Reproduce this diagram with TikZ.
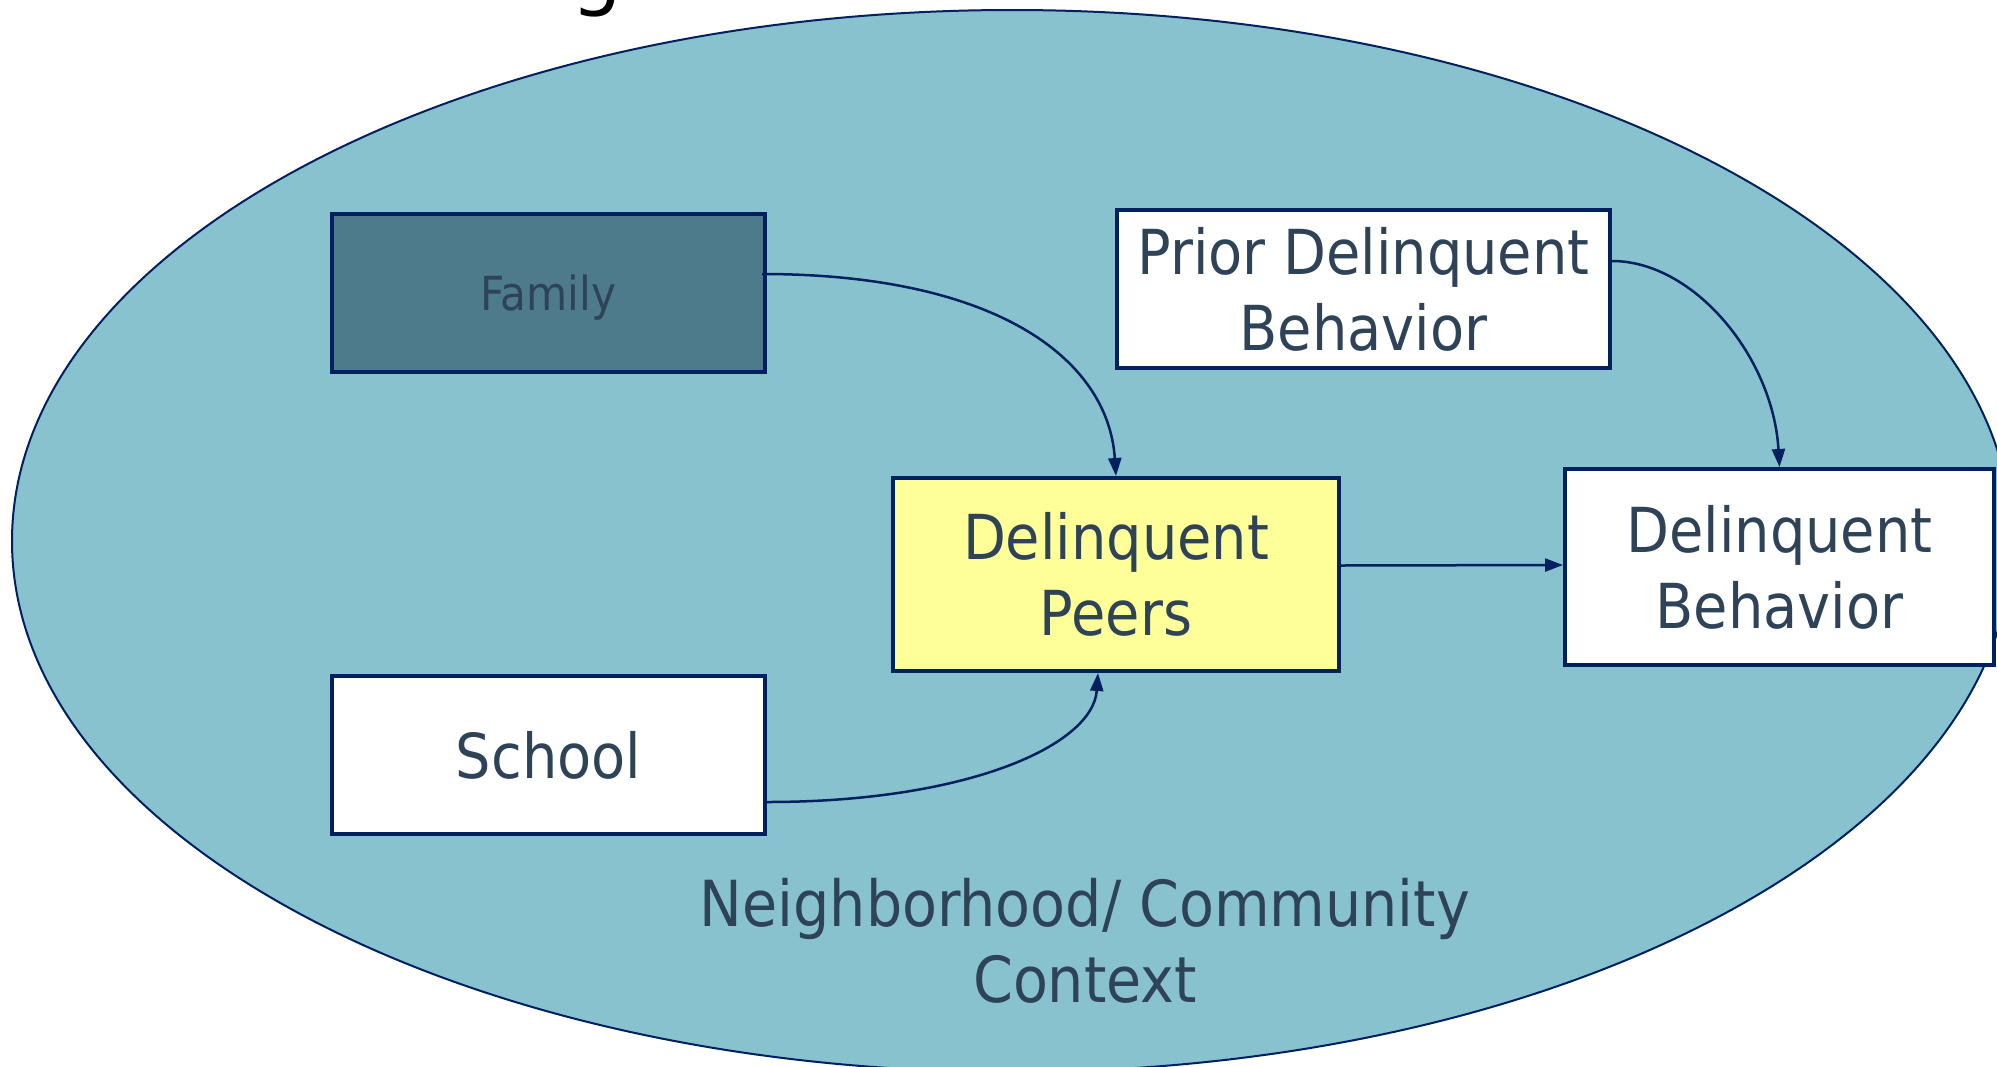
\documentclass[tikz,border=0pt]{standalone}
\usepackage{fontspec}
\setmainfont{DejaVu Sans Condensed}
\newfontfamily\titlefont{DejaVu Sans}
\usetikzlibrary{arrows.meta,calc}
\definecolor{ctxfill}{RGB}{136,194,206}
\definecolor{navy}{RGB}{0,32,96}
\definecolor{famfill}{RGB}{77,123,140}
\definecolor{peerfill}{RGB}{255,255,153}
\definecolor{txt}{RGB}{46,67,88}
\tikzset{
  box/.style={draw=navy, line width=4pt, fill=white, inner sep=0pt, align=center,
    text=txt, font=\fontsize{62}{76}\selectfont},
  conn/.style={draw=navy, line width=2.5pt, -{Triangle[length=18pt,width=13pt]}},
}
\begin{document}
\begin{tikzpicture}[x=1pt,y=-1pt]
\useasboundingbox (0,0) rectangle (1997,1066);
\fill[white] (0,0) rectangle (1997,1066);
\begin{scope}
\clip (0,0) rectangle (1997,1066);
\node[anchor=base west, inner sep=0pt, font=\titlefont\fontsize{80}{90}\selectfont] (title) at (571,0) {g};
\draw[fill=ctxfill, draw=navy, line width=2pt] (1012,541) ellipse [x radius=1000, y radius=531];
\node[box, fill=famfill, minimum width=433pt, minimum height=158pt, text depth=0pt, font=\fontsize{47}{56}\selectfont] (fam) at (548.5,293) {Family};
\node[box, minimum width=493pt, minimum height=158pt] (prior) at (1363.5,289) {Prior Delinquent\\Behavior};
\node[box, fill=peerfill, minimum width=446pt, minimum height=193pt] (peers) at (1116,574.5) {Delinquent\\Peers};
\node[box, minimum width=429pt, minimum height=196pt] (beh) at (1779.5,567) {Delinquent\\Behavior};
\node[box, minimum width=433pt, minimum height=158pt] (school) at (548.5,755) {School};
\node[inner sep=0pt, align=center, text=txt, font=\fontsize{63.5}{76}\selectfont] (ctx) at (1085,941) {Neighborhood/ Community\\Context};
\draw[conn] ($(fam.east)+(-5,-19)$) .. controls (993,274) and (1108,357) .. (peers.north);
\draw[conn] ($(school.east)+(0,47)$) .. controls (968,802) and (1093,745) .. ($(peers.south)+(-18,0)$);
\draw[conn] ($(peers.east)+(0,-9)$) -- ($(beh.west)+(0,-2)$);
\draw[conn] ($(prior.east)+(0,-28)$) .. controls (1694,261) and (1773,357) .. (beh.north);
\end{scope}
\end{tikzpicture}
\end{document}
